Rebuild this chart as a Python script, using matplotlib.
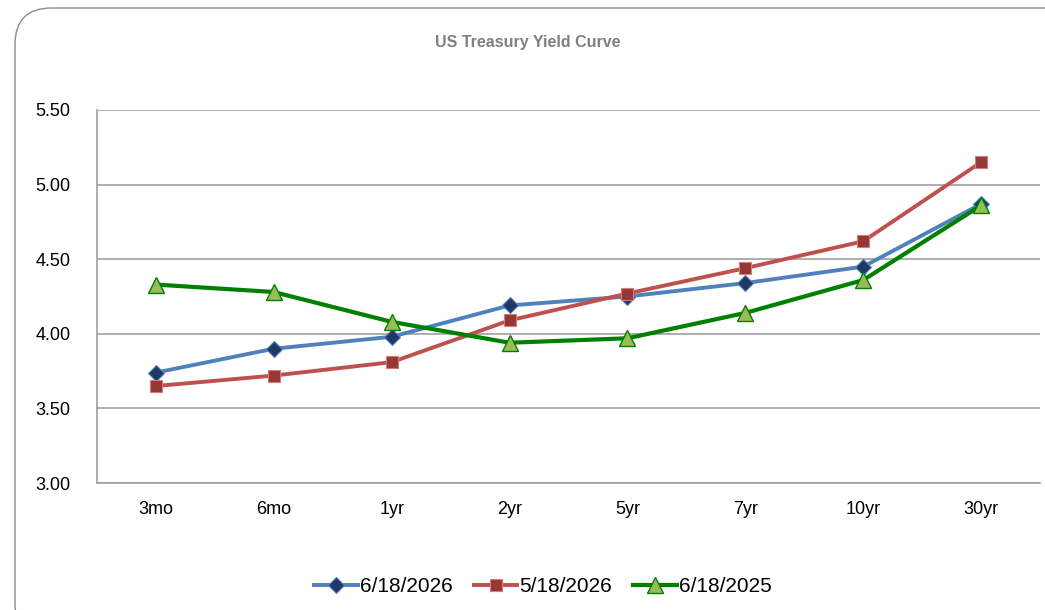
import matplotlib
matplotlib.use("Agg")
import matplotlib.pyplot as plt
from matplotlib.patches import FancyBboxPatch

# ── Data ──────────────────────────────────────────────────────────────────────
maturities = ["3mo", "6mo", "1yr", "2yr", "5yr", "7yr", "10yr", "30yr"]
yld_jun_2026 = [3.74, 3.90, 3.98, 4.19, 4.25, 4.34, 4.45, 4.87]
yld_may_2026 = [3.65, 3.72, 3.81, 4.09, 4.27, 4.44, 4.62, 5.15]
yld_jun_2025 = [4.33, 4.28, 4.08, 3.94, 3.97, 4.14, 4.36, 4.86]
y_ticks = [3.00, 3.50, 4.00, 4.50, 5.00, 5.50]

plt.rcParams["font.family"] = ["Liberation Sans", "DejaVu Sans"]

fig = plt.figure(figsize=(10.45, 6.1), dpi=100)

# rounded chart frame, right/bottom edges run off the image like the original
frame = FancyBboxPatch((15 / 1045, -0.05), 1.1, 1.05 - 8 / 610,
                       boxstyle="round,pad=0,rounding_size=0.035",
                       transform=fig.transFigure, facecolor="white",
                       edgecolor="#8c8c8c", linewidth=1.0, clip_on=False,
                       mutation_aspect=1045 / 610, zorder=-10)
fig.patches.append(frame)

ax = fig.add_axes([97 / 1045, 1 - 483 / 610, 943 / 1045, 373 / 610])
ax.set_facecolor("none")
ax.set_zorder(5)

x = list(range(len(maturities)))
ax.plot(x, yld_jun_2026, color="#4F81BD", linewidth=2.8, marker="D",
        markersize=8, markerfacecolor="#1F3864", markeredgecolor="#4F81BD",
        markeredgewidth=0.8, label="6/18/2026", zorder=3)
ax.plot(x, yld_may_2026, color="#C0504D", linewidth=2.8, marker="s",
        markersize=8, markerfacecolor="#953735", markeredgecolor="#D97A78",
        markeredgewidth=0.8, label="5/18/2026", zorder=3)
ax.plot(x, yld_jun_2025, color="#008000", linewidth=3.0, marker="^",
        markersize=11, markerfacecolor="#9BBB59", markeredgecolor="#008000",
        markeredgewidth=1.0, label="6/18/2025", zorder=3)

ax.set_xlim(-0.5, len(maturities) - 0.5)
ax.set_ylim(3.0, 5.5)
ax.set_xticks(x)
ax.set_xticklabels(maturities)
ax.set_yticks(y_ticks)
ax.set_yticklabels([f"{v:.2f}" for v in y_ticks])
ax.tick_params(axis="both", length=0, labelsize=13, colors="black")
ax.tick_params(axis="x", pad=13)
ax.tick_params(axis="y", pad=19)

ax.grid(axis="y", color="#a0a0a0", linewidth=1.2)
ax.set_axisbelow(True)
for side in ["top", "right"]:
    ax.spines[side].set_visible(False)
for side in ["left", "bottom"]:
    ax.spines[side].set_color("#a0a0a0")
    ax.spines[side].set_linewidth(1.2)

fig.text(528 / 1045, 1 - 42 / 610, "US Treasury Yield Curve", ha="center",
         va="center", fontsize=11.5, fontweight="bold", color="#808080")

leg = fig.legend(loc="center", bbox_to_anchor=(543 / 1045, 1 - 587 / 610), ncol=3,
                 frameon=False, fontsize=15, handlelength=2.1, handletextpad=0.1,
                 columnspacing=1.0)
leg.set_zorder(6)

fig.savefig("out.png", dpi=100)
